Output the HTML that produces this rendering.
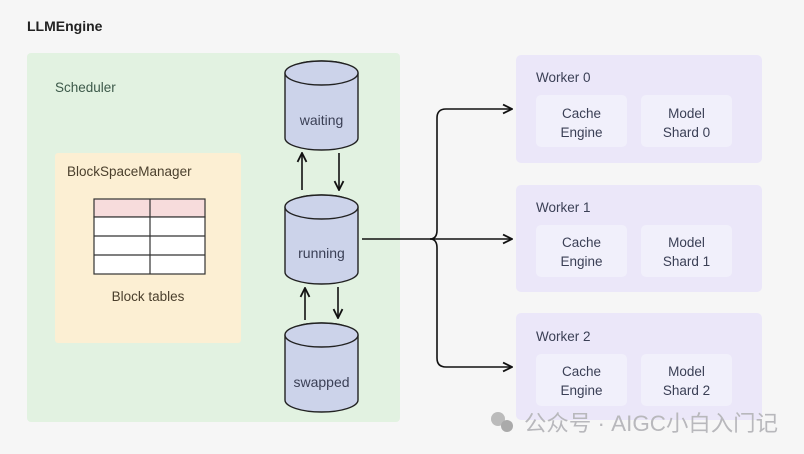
<!DOCTYPE html>
<html><head><meta charset="utf-8"><style>
html,body{margin:0;padding:0;background:#f6f6f6;}
svg{display:block;font-family:"Liberation Sans","Noto Sans CJK SC",sans-serif;}
</style></head><body>
<svg width="804" height="454" viewBox="0 0 804 454" xmlns="http://www.w3.org/2000/svg">
<defs>
<marker id="a" viewBox="0 0 10 10" refX="9" refY="5" markerWidth="7" markerHeight="7" orient="auto-start-reverse">
<path d="M1,1 L9,5 L1,9" fill="none" stroke="#111" stroke-width="1.6"/></marker>
</defs>
<rect width="804" height="454" fill="#f6f6f6"/>
<text x="27" y="31" font-size="14" font-weight="bold" fill="#222">LLMEngine</text>
<rect x="27" y="53" width="373" height="369" rx="4" fill="#e2f2e1"/>
<text x="55" y="92" font-size="13.5" fill="#3d5a4a">Scheduler</text>
<rect x="55" y="153" width="186" height="190" rx="3" fill="#fcefd3"/>
<text x="67" y="176" font-size="13.5" fill="#4a3f2c">BlockSpaceManager</text>
<g stroke="#333" stroke-width="1.2">
<rect x="94" y="199" width="111" height="18" fill="#f7dcdc"/>
<rect x="94" y="217" width="111" height="57" fill="#fff"/>
<line x1="94" y1="236" x2="205" y2="236"/><line x1="94" y1="255" x2="205" y2="255"/>
<line x1="150" y1="199" x2="150" y2="274"/>
</g>
<text x="148" y="301" font-size="13.5" fill="#4a3f2c" text-anchor="middle">Block tables</text>
<g stroke="#222" stroke-width="1.4" fill="#ccd3ea">
<path d="M285,73 V138 A36.5,12 0 0 0 358,138 V73 A36.5,12 0 0 0 285,73 Z"/>
<ellipse cx="321.5" cy="73" rx="36.5" ry="12"/>
<path d="M285,207 V272 A36.5,12 0 0 0 358,272 V207 A36.5,12 0 0 0 285,207 Z"/>
<ellipse cx="321.5" cy="207" rx="36.5" ry="12"/>
<path d="M285,335 V400 A36.5,12 0 0 0 358,400 V335 A36.5,12 0 0 0 285,335 Z"/>
<ellipse cx="321.5" cy="335" rx="36.5" ry="12"/>
</g>
<g font-size="14" fill="#3a3f55" text-anchor="middle">
<text x="321.5" y="125">waiting</text>
<text x="321.5" y="258">running</text>
<text x="321.5" y="387">swapped</text>
</g>
<g stroke="#111" stroke-width="1.6" fill="none">
<line x1="302" y1="190" x2="302" y2="153" marker-end="url(#a)"/>
<line x1="339" y1="153" x2="339" y2="190" marker-end="url(#a)"/>
<line x1="305" y1="320" x2="305" y2="288" marker-end="url(#a)"/>
<line x1="338" y1="287" x2="338" y2="318" marker-end="url(#a)"/>
<line x1="362" y1="239" x2="430" y2="239"/>
<path d="M430,239 Q437,239 437,230 V118 Q437,109 446,109 H512" marker-end="url(#a)"/>
<line x1="430" y1="239" x2="512" y2="239" marker-end="url(#a)"/>
<path d="M430,239 Q437,239 437,248 V358 Q437,367 446,367 H512" marker-end="url(#a)"/>
</g>
<g font-size="13.5" fill="#3a3f55">
<rect x="516" y="55" width="246" height="108" rx="5" fill="#ebe7f9"/>
<rect x="516" y="185" width="246" height="107" rx="5" fill="#ebe7f9"/>
<rect x="516" y="313" width="246" height="107" rx="5" fill="#ebe7f9"/>
<text x="536" y="82">Worker 0</text>
<text x="536" y="212">Worker 1</text>
<text x="536" y="341">Worker 2</text>
<rect x="536" y="95" width="91" height="52" rx="5" fill="#f1f0fb"/>
<rect x="641" y="95" width="91" height="52" rx="5" fill="#f1f0fb"/>
<rect x="536" y="225" width="91" height="52" rx="5" fill="#f1f0fb"/>
<rect x="641" y="225" width="91" height="52" rx="5" fill="#f1f0fb"/>
<rect x="536" y="354" width="91" height="52" rx="5" fill="#f1f0fb"/>
<rect x="641" y="354" width="91" height="52" rx="5" fill="#f1f0fb"/>
<g text-anchor="middle">
<text x="581.5" y="118">Cache</text><text x="581.5" y="137">Engine</text>
<text x="686.5" y="118">Model</text><text x="686.5" y="137">Shard 0</text>
<text x="581.5" y="247">Cache</text><text x="581.5" y="266">Engine</text>
<text x="686.5" y="247">Model</text><text x="686.5" y="266">Shard 1</text>
<text x="581.5" y="376">Cache</text><text x="581.5" y="395">Engine</text>
<text x="686.5" y="376">Model</text><text x="686.5" y="395">Shard 2</text>
</g>
</g>
<circle cx="498" cy="419" r="7" fill="#bbb"/><circle cx="507" cy="426" r="6" fill="#aaa"/>
<text x="524" y="431" font-size="22" fill="#b8b8bc" textLength="254" lengthAdjust="spacingAndGlyphs">公众号 · AIGC小白入门记</text>
</svg>
</body></html>
